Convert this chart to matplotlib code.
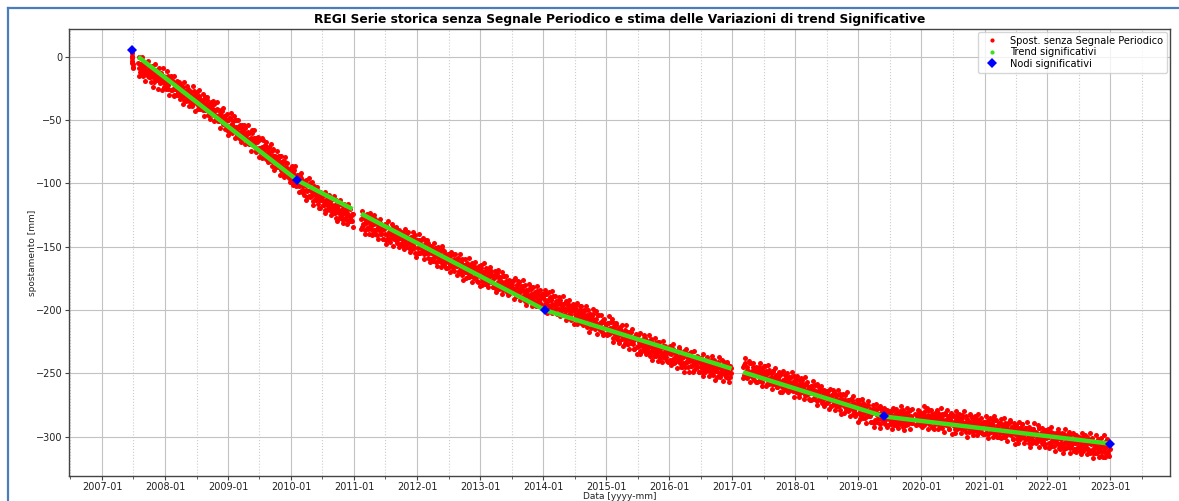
import numpy as np
import pandas as pd
import matplotlib
matplotlib.use("Agg")
import matplotlib.pyplot as plt
import matplotlib.dates as mdates
from matplotlib.lines import Line2D
from matplotlib.ticker import MultipleLocator

nan = float("nan")

# ---------------------------------------------------------------------------
# REGI station: displacement [mm] with the periodic signal removed.
# Two interleaved sample sets per year, one value every 5 days from the
# given start date (set "b" starts two days after set "a").
# ---------------------------------------------------------------------------
start_2007_0 = "2007-06-22"   # daily values around the first node
obs_2007_0 = [3, 1, -1, -3, -5, -6, -8, -9]

start_2007 = "2007-07-29"
obs_2007 = [-5, -9, -12, -6, -10, -14, -8, -11, -7, -13, -10, -15, -9, -12, -16, -11,
            -14, -10, -17, -13, -15, -12, -18, -14, -16, -20, -13, -17, -19, -15, -21, -18]
start_2007_b = "2007-07-31"
obs_2007_b = [0, -15, -6, -11, 0, -15, -5, -11, -19, -6, -11, -3, -16, -9, -20, -12,
              -7, -24, -20, -6, -17, -10, -25, -15, -9, -21, -14, -26, -9, -19, -24]

start_2008 = "2008-01-03"
obs_2008 = [-16, -22, -20, -25, -17, -20, -26, -20, -18, -25, -30, -23, -25, -22, -26, -30,
            -20, -29, -25, -31, -24, -30, -34, -27, -30, -32, -25, -35, -30, -28, -35, -39,
            -31, -33, -29, -36, -35, -28, -38, -34, -33, -39, -37, -42, -34, -37, -42, -37,
            -34, -42, -46, -40, -41, -39, -43, -46, -37, -46, -42, -48, -41, -47, -51, -45,
            -47, -50, -43, -53, -49, -47, -54, -58, -50]
start_2008_b = "2008-01-05"
obs_2008_b = [-25, -11, -22, -15, -30, -20, -15, -26, -20, -31, -15, -25, -30, -19, -28, -24,
              -33, -23, -22, -31, -37, -20, -29, -35, -27, -23, -32, -39, -27, -30, -37, -23,
              -37, -27, -43, -32, -35, -41, -31, -26, -41, -35, -39, -29, -47, -32, -41, -39,
              -32, -46, -37, -49, -36, -43, -40, -35, -51, -42, -47, -36, -51, -42, -47, -56,
              -42, -48, -40, -53, -47, -57, -50, -45, -62]

start_2009 = "2009-01-02"
obs_2009 = [-50, -56, -48, -54, -60, -51, -55, -58, -50, -55, -62, -55, -60, -54, -66, -59,
            -57, -64, -64, -56, -62, -68, -61, -59, -66, -69, -64, -58, -67, -70, -64, -67,
            -74, -66, -64, -72, -66, -72, -76, -71, -66, -76, -73, -71, -81, -73, -77, -71,
            -81, -78, -74, -86, -78, -82, -78, -82, -79, -87, -81, -78, -86, -89, -86, -82,
            -93, -87, -83, -92, -88, -91, -96, -89, -92]
start_2009_b = "2009-01-04"
obs_2009_b = [-59, -48, -44, -58, -53, -56, -47, -64, -50, -59, -57, -50, -64, -55, -67, -54,
              -61, -58, -54, -69, -60, -65, -54, -69, -60, -65, -74, -60, -66, -58, -71, -64,
              -75, -67, -63, -79, -65, -73, -80, -64, -72, -79, -70, -67, -77, -83, -72, -75,
              -82, -69, -82, -73, -89, -78, -82, -87, -74, -84, -78, -93, -83, -78, -90, -83,
              -95, -79, -89, -94, -84, -93, -89, -99, -88]

start_2010 = "2010-01-02"
obs_2010 = [-90, -97, -93, -89, -97, -101, -95, -98, -93, -102, -100, -96, -107, -99, -102,
            -106, -100, -105, -106, -101, -110, -105, -100, -110, -107, -114, -106, -106,
            -113, -109, -111, -106, -113, -119, -110, -113, -109, -117, -114, -121, -113,
            -110, -118, -120, -116, -114, -122, -118, -112, -120, -122, -117, -127, -119,
            -117, -123, -116, -126, -121, -128, -120, -123, -127, -120, -125, -123, -130,
            -119, -128, -126, -130, -124]
start_2010_b = "2010-01-04"
obs_2010_b = [-86, -101, -92, -98, -86, -102, -93, -99, -107, -94, -99, -92, -105, -98, -109,
              -101, -97, -113, -111, -101, -96, -111, -105, -109, -99, -117, -102, -112, -109,
              -103, -116, -108, -119, -107, -113, -111, -108, -117, -123, -107, -115, -121,
              -113, -109, -119, -125, -113, -117, -123, -110, -123, -113, -130, -118, -122,
              -127, -113, -124, -117, -131, -122, -116, -128, -121, -132, -116, -126, -130,
              -120, -129, -124, -134]

start_2011 = "2011-02-10"
obs_2011 = [-128, -134, -125, -132, -137, -128, -131, -135, -126, -134, -131, -136, -129,
            -133, -139, -132, -128, -137, -141, -134, -132, -137, -131, -140, -137, -144,
            -135, -134, -140, -133, -141, -144, -138, -136, -146, -140, -136, -143, -139,
            -142, -135, -145, -141, -144, -139, -148, -143, -144, -139, -149, -142, -144,
            -147, -139, -147, -151, -143, -145, -150, -142, -148, -150, -145, -155, -145]
start_2011_b = "2011-02-12"
obs_2011_b = [-136, -122, -132, -126, -140, -130, -124, -136, -129, -140, -123, -126, -141,
              -131, -137, -125, -140, -131, -136, -144, -130, -136, -128, -140, -134, -144,
              -136, -132, -148, -145, -134, -130, -144, -138, -141, -132, -149, -134, -144,
              -141, -134, -147, -139, -150, -137, -143, -141, -138, -146, -152, -136, -144,
              -150, -142, -138, -147, -154, -142, -145, -152, -138, -151, -141, -158, -146]

start_2012 = "2012-01-02"
obs_2012 = [-145, -151, -155, -148, -145, -154, -151, -149, -156, -148, -153, -155, -147,
            -155, -152, -160, -151, -155, -159, -153, -151, -157, -162, -153, -157, -160,
            -153, -160, -152, -163, -158, -160, -156, -167, -158, -162, -159, -166, -157,
            -162, -165, -156, -165, -169, -162, -161, -165, -159, -169, -165, -167, -162,
            -172, -165, -164, -170, -166, -163, -170, -174, -165, -168, -173, -163, -170,
            -167, -175, -166, -172, -170, -178, -168, -172]
start_2012_b = "2012-01-04"
obs_2012_b = [-155, -145, -140, -155, -149, -152, -143, -160, -145, -155, -152, -145, -159,
              -150, -162, -149, -155, -153, -161, -147, -158, -151, -165, -156, -150, -161,
              -154, -166, -149, -159, -164, -153, -162, -158, -167, -156, -156, -164, -170,
              -154, -162, -168, -160, -156, -165, -172, -160, -163, -170, -156, -169, -160,
              -176, -164, -168, -160, -175, -166, -171, -159, -174, -164, -170, -178, -164,
              -169, -162, -174, -167, -177, -170, -165, -181]

start_2013 = "2013-01-02"
obs_2013 = [-167, -174, -177, -170, -172, -177, -167, -174, -179, -171, -173, -177, -169,
            -177, -182, -173, -175, -172, -179, -171, -178, -183, -175, -174, -180, -178,
            -184, -173, -182, -178, -177, -184, -180, -187, -179, -182, -180, -186, -177,
            -183, -185, -189, -180, -183, -187, -178, -186, -190, -183, -181, -188, -186,
            -193, -184, -188, -189, -183, -193, -187, -182, -191, -189, -195, -187, -190,
            -185, -194, -187, -192, -191, -196, -187, -190]
start_2013_b = "2013-01-04"
obs_2013_b = [-164, -180, -170, -175, -163, -179, -169, -174, -182, -169, -174, -166, -178,
              -172, -182, -174, -169, -186, -183, -172, -168, -182, -176, -180, -170, -187,
              -173, -182, -179, -173, -186, -177, -188, -176, -182, -179, -177, -185, -191,
              -175, -183, -189, -180, -177, -186, -192, -181, -184, -190, -176, -190, -180,
              -196, -185, -188, -193, -179, -190, -183, -197, -187, -182, -193, -186, -197,
              -181, -191, -195, -184, -194, -189, -198, -187]

start_2014 = "2014-01-02"
obs_2014 = [-189, -196, -192, -187, -195, -199, -192, -190, -197, -192, -195, -189, -200,
            -195, -198, -193, -203, -195, -199, -192, -200, -197, -204, -195, -198, -203,
            -193, -200, -197, -205, -196, -202, -201, -207, -198, -200, -198, -203, -207,
            -200, -203, -206, -197, -210, -203, -201, -207, -200, -209, -206, -204, -213,
            -206, -210, -203, -211, -206, -203, -213, -209, -215, -207, -211, -204, -213,
            -210, -216, -209, -215, -208, -219, -213, -211]
start_2014_b = "2014-01-04"
obs_2014_b = [-198, -184, -194, -187, -202, -192, -186, -198, -191, -202, -185, -196, -200,
              -189, -199, -194, -203, -192, -190, -205, -195, -200, -189, -204, -194, -200,
              -208, -194, -199, -192, -204, -197, -208, -200, -195, -211, -197, -205, -211,
              -194, -203, -209, -200, -197, -206, -212, -201, -204, -210, -197, -210, -200,
              -217, -205, -208, -214, -204, -199, -213, -208, -211, -201, -219, -204, -213,
              -211, -204, -217, -209, -220, -207, -214, -211]

start_2015 = "2015-01-02"
obs_2015 = [-211, -219, -210, -215, -218, -209, -215, -222, -213, -218, -216, -212, -221,
            -216, -219, -224, -215, -219, -223, -217, -220, -226, -216, -223, -220, -227,
            -218, -223, -226, -217, -225, -224, -231, -222, -222, -229, -220, -228, -225,
            -232, -224, -228, -223, -231, -227, -222, -233, -226, -230, -226, -236, -228,
            -224, -233, -230, -232, -226, -236, -230, -234, -225, -232, -238, -230, -234,
            -228, -237, -230, -236, -234, -240, -230, -234]
start_2015_b = "2015-01-04"
obs_2015_b = [-220, -210, -205, -219, -214, -217, -207, -225, -210, -219, -217, -210, -223,
              -215, -226, -213, -220, -217, -212, -228, -218, -223, -212, -227, -217, -223,
              -231, -217, -223, -215, -227, -221, -231, -223, -219, -235, -220, -228, -235,
              -218, -226, -232, -224, -220, -229, -235, -224, -227, -233, -220, -233, -223,
              -239, -228, -231, -236, -222, -233, -226, -240, -230, -225, -236, -229, -241,
              -224, -234, -238, -228, -237, -232, -241, -231]

start_2016 = "2016-01-02"
obs_2016 = [-232, -239, -235, -242, -231, -238, -234, -241, -236, -233, -240, -231, -239,
            -245, -236, -238, -242, -236, -242, -234, -240, -245, -238, -240, -234, -244,
            -240, -243, -237, -247, -238, -243, -245, -237, -249, -242, -239, -245, -249,
            -242, -240, -247, -244, -239, -247, -242, -245, -249, -239, -247, -245, -251,
            -242, -244, -248, -248, -241, -250, -245, -253, -244, -247, -250, -243, -249,
            -246, -253, -242, -250, -249, -253, -246]
start_2016_b = "2016-01-04"
obs_2016_b = [-228, -243, -233, -239, -227, -242, -232, -237, -246, -232, -237, -229, -242,
              -235, -245, -237, -232, -249, -245, -231, -241, -235, -249, -239, -233, -244,
              -238, -249, -232, -242, -246, -236, -245, -240, -249, -239, -238, -246, -252,
              -235, -243, -249, -241, -237, -246, -252, -240, -243, -250, -236, -249, -239,
              -255, -243, -246, -253, -242, -237, -251, -246, -249, -239, -256, -241, -251,
              -248, -241, -254, -246, -257, -244, -250]

start_2017 = "2017-03-04"
obs_2017 = [-245, -251, -242, -249, -254, -245, -248, -251, -242, -251, -248, -254, -245,
            -249, -251, -247, -257, -248, -245, -254, -249, -252, -257, -248, -251, -254,
            -248, -253, -258, -250, -247, -255, -253, -258, -250, -248, -258, -253, -256,
            -261, -253, -251, -256, -251, -257, -261, -255, -256, -259, -251, -263, -255,
            -258, -254, -262, -253, -260, -258, -264, -256, -258]
start_2017_b = "2017-03-06"
obs_2017_b = [-254, -243, -238, -253, -247, -250, -240, -257, -242, -252, -249, -242, -255,
              -246, -257, -245, -251, -248, -256, -242, -252, -246, -260, -250, -244, -244,
              -260, -250, -255, -243, -258, -249, -254, -262, -248, -254, -246, -258, -251,
              -261, -254, -249, -265, -250, -258, -265, -248, -256, -262, -254, -250, -259,
              -265, -253, -257, -263, -249, -262, -252, -269, -257]

start_2018 = "2018-01-02"
obs_2018 = [-261, -255, -264, -259, -266, -258, -261, -264, -255, -263, -260, -267, -258,
            -265, -263, -270, -261, -263, -261, -265, -270, -263, -259, -268, -266, -272,
            -265, -263, -269, -262, -271, -268, -271, -266, -274, -268, -273, -267, -264,
            -272, -270, -276, -267, -271, -265, -274, -270, -276, -267, -272, -274, -279,
            -270, -267, -274, -271, -276, -267, -275, -279, -273, -271, -279, -275, -277,
            -271, -282, -273, -278, -277, -282, -275, -274]
start_2018_b = "2018-01-04"
obs_2018_b = [-265, -252, -262, -255, -269, -260, -254, -265, -258, -270, -253, -263, -267,
              -257, -266, -261, -271, -260, -271, -260, -256, -270, -264, -267, -258, -275,
              -260, -270, -267, -260, -273, -265, -276, -263, -269, -267, -264, -272, -278,
              -262, -270, -276, -267, -263, -273, -279, -267, -270, -276, -263, -276, -266,
              -282, -270, -274, -266, -281, -271, -277, -265, -280, -271, -276, -284, -270,
              -276, -268, -280, -274, -284, -276, -271, -288]

start_2019 = "2019-01-02"
obs_2019 = [-281, -274, -278, -284, -277, -273, -281, -285, -277, -279, -284, -275, -281,
            -284, -279, -288, -281, -278, -280, -287, -279, -283, -286, -277, -285, -290,
            -281, -286, -283, -279, -288, -284, -286, -280, -291, -282, -287, -281, -290,
            -284, -279, -288, -285, -291, -281, -286, -283, -289, -280, -287, -285, -292,
            -282, -284, -288, -281, -287, -290, -284, -288, -279, -285, -289, nan, nan, nan,
            -282, -291, -283, -286, -280, -287, -285]
start_2019_b = "2019-01-04"
obs_2019_b = [-271, -286, -276, -282, -270, -285, -275, -280, -289, -275, -280, -272, -284,
              -278, -288, -280, -275, -292, -289, -278, -274, -288, -282, -285, -276, -293,
              -278, -287, -284, -277, -290, -281, -292, -279, -285, -283, -280, -288, -294,
              -277, -285, -291, -282, -278, -287, -293, -281, -284, -290, -276, -289, -279,
              -295, -283, -286, -291, -277, -287, -280, -294, -284, -278, -289, nan, nan, nan,
              -286, -290, -279, -288, -283, -291, -281]

start_2020 = "2020-01-02"
obs_2020 = [-282, -289, -284, -291, -280, -286, -288, -283, -279, -290, -285, -288, -282,
            -293, -285, -283, -290, -286, -288, -281, -291, -286, -284, -292, -282, -287,
            -290, -281, -291, -286, -289, -284, -294, -287, -282, -290, -284, -291, -288,
            -294, -286, -283, -290, -293, -287, -286, -293, -283, -290, -292, -289, -296,
            -288, -286, -292, -293, -288, -284, -294, -290, -296, -287, -291, -285, -293,
            -290, -296, -287, -294, -291, -297, -289, -288]
start_2020_b = "2020-01-04"
obs_2020_b = [-292, -281, -276, -290, -284, -287, -277, -294, -279, -288, -285, -279, -292,
              -283, -294, -281, -287, -284, -279, -294, -284, -289, -277, -293, -283, -288,
              -296, -282, -287, -279, -291, -284, -294, -286, -281, -298, -283, -291, -297,
              -280, -288, -294, -285, -282, -291, -297, -285, -288, -294, -280, -293, -284,
              -300, -288, -291, -296, -282, -292, -285, -299, -290, -284, -295, -288, -299,
              -282, -292, -296, -285, -294, -289, -298, -288]

start_2021 = "2021-01-02"
obs_2021 = [-290, -297, -288, -293, -298, -289, -292, -295, -286, -295, -291, -297, -287,
            -293, -300, -291, -294, -289, -297, -290, -293, -300, -292, -289, -296, -299,
            -293, -290, -298, -288, -296, -297, -292, -302, -294, -298, -291, -298, -302,
            -295, -293, -300, -296, -290, -300, -295, -298, -302, -293, -297, -300, -305,
            -295, -297, -302, -300, -294, -303, -297, -305, -296, -299, -303, -293, -300,
            -297, -305, -297, -303, -300, -306, -296, -300]
start_2021_b = "2021-01-04"
obs_2021_b = [-298, -284, -294, -287, -301, -291, -285, -296, -289, -300, -284, -294, -298,
              -287, -296, -291, -300, -289, -286, -301, -291, -297, -285, -300, -290, -295,
              -303, -289, -295, -287, -299, -292, -302, -294, -289, -306, -291, -299, -305,
              -288, -296, -302, -293, -290, -299, -305, -293, -296, -302, -288, -302, -292,
              -308, -296, -299, -305, -294, -289, -304, -298, -301, -291, -308, -293, -302,
              -300, -293, -306, -297, -308, -295, -301, -299]

start_2022 = "2022-01-02"
obs_2022 = [-298, -305, -300, -307, -296, -303, -302, -307, -298, -303, -300, -305, -296,
            -309, -301, -305, -300, -307, -306, -298, -304, -309, -301, -299, -308, -304,
            -309, -298, -306, -303, -311, -301, -305, -300, -309, -302, -301, -307, -311,
            -304, -308, -300, -305, -310, -303, -306, -300, -310, -303, -313, -306, -304,
            -310, -313, -306, -309, -304, -313, -306, -311, -303, -309, -315, -306, -311,
            -308, -316, -304, -313, -307, -314, -306, -310]
start_2022_b = "2022-01-04"
obs_2022_b = [-294, -309, -299, -304, -292, -307, -297, -303, -311, -297, -302, -294, -306,
              -299, -310, -302, -297, -313, -310, -299, -294, -308, -302, -306, -296, -313,
              -298, -307, -304, -297, -310, -301, -312, -299, -305, -303, -300, -308, -314,
              -297, -305, -311, -302, -299, -308, -314, -302, -305, -311, -297, -311, -301,
              -317, -305, -308, -313, -299, -309, -302, -316, -307, -301, -312, -305, -316,
              -299, -309, -313, -302, -311, -306, -315, -305]

# Significant trend: piecewise-linear pieces (interrupted where data is missing)
trend_piece_1_dates = ["2007-07-29", "2010-02-06", "2010-12-22"]
trend_piece_1_vals = [0.0, -97.5, -120.2]
trend_piece_2_dates = ["2011-02-10", "2014-01-11", "2016-12-27"]
trend_piece_2_vals = [-123.9, -200.0, -246.2]
trend_piece_3_dates = ["2017-03-04", "2019-05-30", "2022-12-31"]
trend_piece_3_vals = [-249.0, -284.0, -305.5]

# Significant nodes (trend change points)
node_dates = ["2007-06-25", "2010-02-06", "2014-01-11", "2019-05-30", "2023-01-01"]
node_vals = [5.5, -97.5, -200.0, -284.0, -305.5]

title = ("REGI Serie storica senza Segnale Periodico e stima delle "
         "Variazioni di trend Significative")

# ---------------------------------------------------------------------------
series = [
    (start_2007_0, obs_2007_0, "1D"),
    (start_2007, obs_2007, "5D"), (start_2007_b, obs_2007_b, "5D"),
    (start_2008, obs_2008, "5D"), (start_2008_b, obs_2008_b, "5D"),
    (start_2009, obs_2009, "5D"), (start_2009_b, obs_2009_b, "5D"),
    (start_2010, obs_2010, "5D"), (start_2010_b, obs_2010_b, "5D"),
    (start_2011, obs_2011, "5D"), (start_2011_b, obs_2011_b, "5D"),
    (start_2012, obs_2012, "5D"), (start_2012_b, obs_2012_b, "5D"),
    (start_2013, obs_2013, "5D"), (start_2013_b, obs_2013_b, "5D"),
    (start_2014, obs_2014, "5D"), (start_2014_b, obs_2014_b, "5D"),
    (start_2015, obs_2015, "5D"), (start_2015_b, obs_2015_b, "5D"),
    (start_2016, obs_2016, "5D"), (start_2016_b, obs_2016_b, "5D"),
    (start_2017, obs_2017, "5D"), (start_2017_b, obs_2017_b, "5D"),
    (start_2018, obs_2018, "5D"), (start_2018_b, obs_2018_b, "5D"),
    (start_2019, obs_2019, "5D"), (start_2019_b, obs_2019_b, "5D"),
    (start_2020, obs_2020, "5D"), (start_2020_b, obs_2020_b, "5D"),
    (start_2021, obs_2021, "5D"), (start_2021_b, obs_2021_b, "5D"),
    (start_2022, obs_2022, "5D"), (start_2022_b, obs_2022_b, "5D"),
]
obs_t = []
obs_v = []
for start, vals, step in series:
    obs_t.append(pd.date_range(start, periods=len(vals), freq=step))
    obs_v.append(np.asarray(vals, dtype=float))
obs_t = obs_t[0].append(obs_t[1:])
obs_v = np.concatenate(obs_v)

fig = plt.figure(figsize=(11.79, 5.01), dpi=100)
ax = fig.add_axes([69 / 1179, 25 / 501, 1101 / 1179, 447 / 501])

red = "#ff0000"
green = "#3be01c"
blue = "#0000ff"

ax.plot(obs_t, obs_v, ls="none", marker="o", ms=3.6, mew=0, color=red, zorder=3)
for d, v in [(trend_piece_1_dates, trend_piece_1_vals),
             (trend_piece_2_dates, trend_piece_2_vals),
             (trend_piece_3_dates, trend_piece_3_vals)]:
    ax.plot(pd.to_datetime(d), v, color=green, lw=3.2, solid_capstyle="butt", zorder=4)
ax.plot(pd.to_datetime(node_dates), node_vals, ls="none", marker="D", ms=5.5,
        color=blue, mew=0, zorder=5)

ax.set_xlim(pd.Timestamp("2006-06-23"), pd.Timestamp("2023-12-12"))
ax.set_ylim(-331, 22)

ax.xaxis.set_major_locator(mdates.YearLocator())
ax.xaxis.set_minor_locator(mdates.MonthLocator(bymonth=7))
ax.xaxis.set_major_formatter(mdates.DateFormatter("%Y-%m"))
ax.yaxis.set_major_locator(MultipleLocator(50))

ax.grid(True, which="major", color="#c2c2c2", lw=0.8, ls="-")
ax.grid(True, which="minor", axis="x", color="#cccccc", lw=0.8, ls=":")
ax.set_axisbelow(True)

ax.tick_params(axis="both", which="major", labelsize=7, length=3, pad=1.5,
               color="#444444", labelcolor="#222222")
ax.tick_params(axis="x", which="minor", length=2, color="#444444")
for s in ax.spines.values():
    s.set_color("#444444")
    s.set_linewidth(1.0)

ax.set_title(title, fontsize=8.8, fontweight="bold", pad=4)
ax.set_xlabel("Data [yyyy-mm]", fontsize=6.5, labelpad=0, color="#222222")
ax.set_ylabel("spostamento [mm]", fontsize=6.5, labelpad=-1, color="#222222")

handles = [
    Line2D([], [], ls="none", marker="o", ms=3.0, mew=0, color=red),
    Line2D([], [], ls="none", marker="o", ms=3.0, mew=0, color=green),
    Line2D([], [], ls="none", marker="D", ms=5.5, mew=0, color=blue),
]
labels = ["Spost. senza Segnale Periodico", "Trend significativi", "Nodi significativi"]
ax.legend(handles, labels, loc="upper right", fontsize=7.1, framealpha=0.8,
          borderaxespad=0.3, handletextpad=0.8, labelspacing=0.15,
          edgecolor="#cccccc", fancybox=True)

# outer frame of the page
frame_color = "#4a7ebb"
fig.add_artist(Line2D([8 / 1179, 1.0], [1 - 8 / 501, 1 - 8 / 501],
                      transform=fig.transFigure, color=frame_color, lw=1.6))
fig.add_artist(Line2D([8 / 1179, 8 / 1179], [0.0, 1 - 8 / 501],
                      transform=fig.transFigure, color=frame_color, lw=1.6))

fig.savefig("out.png", dpi=100)
